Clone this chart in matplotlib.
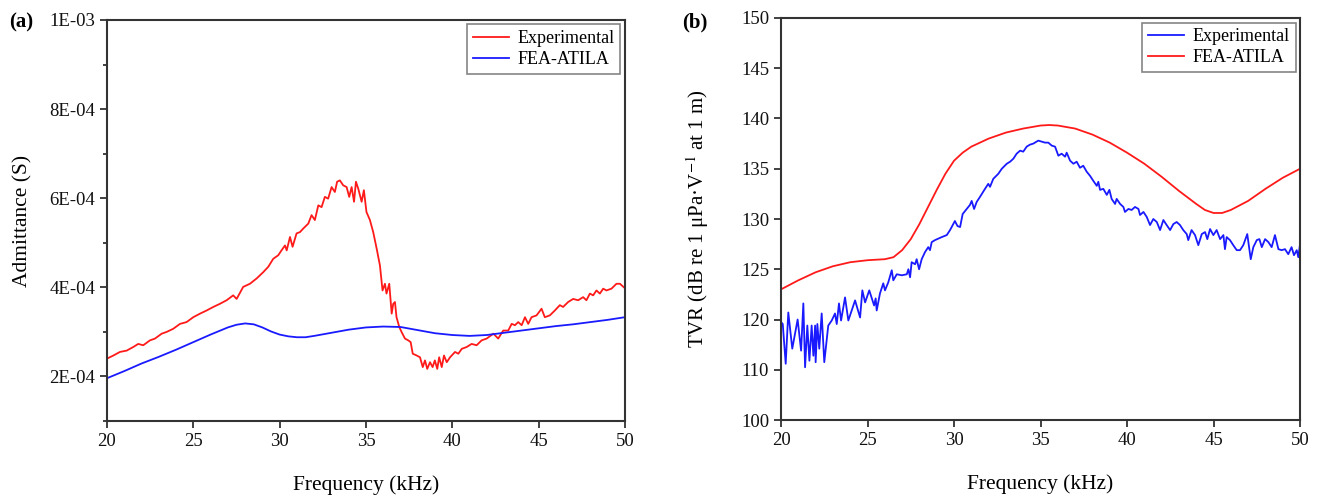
import numpy as np
import matplotlib
matplotlib.use('Agg')
import matplotlib.pyplot as plt
from matplotlib.ticker import MultipleLocator, FixedLocator

plt.rcParams['font.family'] = ['Liberation Serif', 'DejaVu Serif']
plt.rcParams['mathtext.fontset'] = 'stix'

# ---- panel (a): admittance, values in units of 1e-4 S ----
exp_a_f = [20.0, 20.37, 20.75, 21.14, 21.52, 21.81, 22.1, 22.49, 22.78, 23.17, 23.46, 23.84,
           24.23, 24.61, 25.0, 25.39, 25.77, 26.16, 26.54, 26.93, 27.31, 27.51, 27.89, 28.28,
           28.67, 29.05, 29.34, 29.63, 29.92, 30.11, 30.31, 30.41, 30.6, 30.75, 30.98, 31.18,
           31.37, 31.66, 31.85, 32.04, 32.24, 32.43, 32.62, 32.81, 33.01, 33.2, 33.33, 33.49,
           33.68, 33.88, 34.03, 34.17, 34.31, 34.42, 34.55, 34.75, 34.88, 35.03, 35.23, 35.42,
           35.62, 35.81, 35.96, 36.1, 36.19, 36.35, 36.49, 36.58, 36.68, 36.77, 36.93, 37.06,
           37.26, 37.45, 37.59, 37.71, 37.94, 38.13, 38.29, 38.42, 38.55, 38.71, 38.86, 38.99,
           39.13, 39.24, 39.39, 39.52, 39.68, 39.87, 40.16, 40.35, 40.55, 40.83, 41.12, 41.41,
           41.7, 41.99, 42.38, 42.66, 42.95, 43.24, 43.44, 43.63, 43.82, 44.02, 44.21, 44.4,
           44.59, 44.88, 45.17, 45.36, 45.65, 45.94, 46.23, 46.42, 46.71, 47.0, 47.29, 47.58,
           47.77, 47.97, 48.16, 48.35, 48.55, 48.74, 48.93, 49.22, 49.51, 49.71, 49.94, 50.0]
exp_a_y = [2.40, 2.47, 2.55, 2.58, 2.66, 2.73, 2.70, 2.81, 2.85, 2.96, 3.00, 3.07,
           3.18, 3.22, 3.33, 3.41, 3.48, 3.56, 3.63, 3.71, 3.82, 3.74, 4.01, 4.08,
           4.20, 4.34, 4.46, 4.64, 4.72, 4.83, 4.94, 4.83, 5.13, 4.91, 5.21, 5.24,
           5.32, 5.43, 5.62, 5.51, 5.84, 5.80, 6.03, 5.99, 6.25, 6.14, 6.37, 6.40,
           6.29, 6.25, 6.03, 6.25, 5.92, 6.37, 6.22, 5.92, 6.18, 5.69, 5.51, 5.24,
           4.87, 4.49, 3.93, 4.08, 3.86, 4.08, 3.41, 3.63, 3.67, 3.33, 3.11, 3.00,
           2.85, 2.81, 2.77, 2.51, 2.47, 2.43, 2.21, 2.36, 2.17, 2.32, 2.21, 2.36,
           2.17, 2.43, 2.21, 2.47, 2.32, 2.43, 2.55, 2.51, 2.62, 2.66, 2.73, 2.70,
           2.81, 2.85, 2.96, 2.85, 3.03, 3.03, 3.18, 3.15, 3.22, 3.15, 3.33, 3.18,
           3.33, 3.37, 3.52, 3.33, 3.37, 3.48, 3.60, 3.56, 3.67, 3.74, 3.71, 3.78,
           3.71, 3.86, 3.82, 3.93, 3.86, 3.97, 3.93, 3.97, 4.08, 4.08, 4.00, 3.98]

fea_a_f = [20, 21, 22, 23, 24, 25, 26, 27, 27.5, 28, 28.5, 29, 29.5, 30, 30.5, 31, 31.5, 32,
           33, 34, 35, 36, 37, 38, 39, 40, 41, 42, 43, 44, 45, 46, 47, 48, 49, 50]
fea_a_y = [1.96, 2.12, 2.29, 2.44, 2.60, 2.77, 2.94, 3.10, 3.16, 3.19, 3.17, 3.10, 3.01, 2.94,
           2.90, 2.88, 2.88, 2.91, 2.98, 3.05, 3.10, 3.12, 3.11, 3.04, 2.97, 2.93, 2.91, 2.93,
           2.98, 3.03, 3.08, 3.13, 3.17, 3.22, 3.27, 3.33]

# ---- panel (b): TVR in dB ----
exp_b_f = [20.0, 20.1, 20.27, 20.42, 20.65, 20.96, 21.16, 21.29, 21.39, 21.52, 21.64, 21.77,
           21.87, 21.97, 22.0, 22.1, 22.21, 22.35, 22.5, 22.73, 22.93, 23.12, 23.22, 23.35,
           23.47, 23.7, 23.89, 24.28, 24.57, 24.7, 24.86, 25.1, 25.38, 25.47, 25.53, 25.72,
           25.91, 26.01, 26.2, 26.4, 26.49, 26.69, 26.98, 27.27, 27.36, 27.46, 27.55, 27.75,
           27.84, 27.98, 28.13, 28.32, 28.51, 28.61, 28.71, 28.9, 29.29, 29.58, 29.77, 30.05,
           30.2, 30.35, 30.5, 30.73, 30.92, 31.02, 31.16, 31.31, 31.5, 31.79, 31.98, 32.08,
           32.27, 32.56, 32.76, 33.05, 33.24, 33.43, 33.62, 33.82, 34.0, 34.2, 34.39, 34.58,
           34.87, 35.07, 35.26, 35.45, 35.65, 35.84, 36.03, 36.22, 36.42, 36.51, 36.71, 36.9,
           37.09, 37.28, 37.47, 37.67, 37.86, 38.05, 38.25, 38.34, 38.44, 38.63, 38.83, 38.98,
           39.11, 39.31, 39.4, 39.6, 39.79, 39.88, 40.08, 40.27, 40.46, 40.66, 40.75, 40.95,
           41.14, 41.33, 41.52, 41.72, 41.91, 42.1, 42.29, 42.49, 42.68, 42.87, 43.06, 43.25,
           43.45, 43.54, 43.73, 43.93, 44.12, 44.32, 44.51, 44.64, 44.8, 44.99, 45.18, 45.38,
           45.57, 45.66, 45.76, 45.95, 46.14, 46.34, 46.53, 46.72, 46.95, 47.15, 47.3, 47.5,
           47.65, 47.79, 47.98, 48.17, 48.36, 48.55, 48.75, 48.94, 49.13, 49.32, 49.51, 49.65,
           49.81, 49.9, 50.0]
exp_b_y = [119.5, 119.1, 111.2, 120.7, 114.2, 120.0, 113.8, 121.6, 110.5, 118.8, 111.8, 118.8,
           112.8, 118.8, 111.5, 119.1, 114.2, 120.6, 111.5, 118.8, 119.8, 120.6, 119.1, 121.6,
           119.8, 122.2, 119.8, 121.9, 120.2, 122.9, 121.7, 122.9, 121.4, 122.1, 120.9, 122.6,
           123.6, 122.9, 123.7, 124.9, 123.9, 124.5, 124.4, 124.5, 125.0, 124.2, 125.7, 125.5,
           126.0, 125.0, 126.0, 126.7, 127.2, 126.9, 127.7, 127.9, 128.2, 128.4, 128.9, 129.8,
           129.3, 129.2, 130.5, 131.0, 131.4, 131.8, 131.0, 131.7, 132.2, 133.0, 133.5, 133.2,
           134.0, 134.5, 135.0, 135.5, 135.7, 136.0, 136.5, 136.8, 136.7, 137.2, 137.4, 137.5,
           137.8, 137.7, 137.6, 137.6, 137.3, 137.2, 136.3, 136.5, 136.2, 136.6, 135.8, 135.5,
           135.7, 135.1, 135.3, 134.7, 134.3, 133.8, 133.3, 133.7, 132.9, 133.0, 132.4, 132.9,
           132.0, 131.5, 132.0, 131.5, 131.2, 130.7, 131.0, 130.9, 131.2, 131.0, 130.4, 130.7,
           130.2, 129.4, 130.0, 129.7, 128.9, 129.9, 129.4, 128.9, 129.5, 129.7, 129.4, 128.9,
           128.5, 127.9, 128.9, 128.4, 127.4, 128.5, 128.7, 128.0, 129.0, 128.4, 128.9, 128.0,
           128.4, 127.0, 128.2, 127.9, 127.4, 126.9, 126.9, 127.4, 128.5, 126.0, 127.2, 127.9,
           128.0, 127.2, 128.0, 127.7, 127.2, 128.4, 127.0, 126.9, 127.0, 126.5, 127.2, 126.4,
           126.9, 126.2, 127.5]

fea_b_f = [20, 21, 22, 23, 24, 25, 26, 26.5, 27, 27.5, 28, 28.5, 29, 29.5, 30, 30.5, 31, 32,
           33, 34, 35, 35.5, 36, 37, 38, 39, 40, 41, 42, 43, 44, 44.5, 45, 45.5, 46, 47, 48,
           49, 50]
fea_b_y = [123.0, 123.9, 124.7, 125.3, 125.7, 125.9, 126.0, 126.2, 126.9, 128.0, 129.5, 131.2,
           132.9, 134.5, 135.8, 136.6, 137.2, 138.0, 138.6, 139.0, 139.3, 139.35, 139.3, 139.0,
           138.4, 137.6, 136.6, 135.5, 134.2, 132.8, 131.5, 130.9, 130.6, 130.6, 130.9, 131.8,
           133.0, 134.1, 135.0]

b_ticks = [100, 110, 120, 125, 130, 135, 140, 145, 150]

RED = '#ff1a1a'
BLUE = '#1a1aff'
SPINE = '#333333'


def style_axes(ax):
    for s in ax.spines.values():
        s.set_color(SPINE)
        s.set_linewidth(1.5)
    ax.tick_params(which='both', direction='out', color=SPINE, width=1.3,
                   labelsize=13.5, colors='#111111')
    ax.tick_params(which='major', length=5)
    ax.tick_params(which='minor', length=3)
    ax.set_xlim(20, 50)
    ax.xaxis.set_major_locator(MultipleLocator(5))
    ax.set_xlabel('Frequency (kHz)', fontsize=15.5, labelpad=18)


def style_legend(ax):
    leg = ax.legend(loc='upper right', fontsize=13, fancybox=False, handlelength=2.0,
                    handletextpad=0.5, borderaxespad=0.25, labelspacing=0.25, borderpad=0.3)
    leg.get_frame().set_edgecolor('#666666')
    leg.get_frame().set_linewidth(1.2)


fig = plt.figure(figsize=(13.24, 4.97), dpi=100)
ax1 = fig.add_axes([0.0808, 0.1529, 0.3912, 0.8069])
ax2 = fig.add_axes([0.5899, 0.1549, 0.3920, 0.8089])

# (a)
ax1.plot(np.array(exp_a_f), np.array(exp_a_y) * 1e-4, color=RED, lw=1.3, label='Experimental')
ax1.plot(np.array(fea_a_f), np.array(fea_a_y) * 1e-4, color=BLUE, lw=1.3, label='FEA-ATILA')
ax1.set_ylim(1e-4, 1e-3)
ax1.yaxis.set_major_locator(FixedLocator([2e-4, 4e-4, 6e-4, 8e-4, 1e-3]))
ax1.yaxis.set_minor_locator(FixedLocator([1e-4, 3e-4, 5e-4, 7e-4, 9e-4]))
ax1.set_yticklabels(['2E-04', '4E-04', '6E-04', '8E-04', '1E-03'])
ax1.set_ylabel('Admittance (S)', fontsize=15.5, labelpad=12)
style_axes(ax1)
style_legend(ax1)

# (b) -- axis compressed below 120, as in the original labels
def fwd(v):
    v = np.asarray(v, dtype=float)
    return np.where(v >= 120, v, 120 - (120 - v) / 2)


def inv(u):
    u = np.asarray(u, dtype=float)
    return np.where(u >= 120, u, 120 - 2 * (120 - u))


ax2.set_yscale('function', functions=(fwd, inv))
ax2.plot(exp_b_f, exp_b_y, color=BLUE, lw=1.3, label='Experimental')
ax2.plot(fea_b_f, fea_b_y, color=RED, lw=1.3, label='FEA-ATILA')
ax2.set_ylim(100, 150)
ax2.yaxis.set_major_locator(FixedLocator(b_ticks))
ax2.yaxis.set_minor_locator(FixedLocator([]))
ax2.set_yticklabels([str(t) for t in b_ticks])
ax2.set_ylabel('TVR (dB re 1 μPa·V$^{-1}$ at 1 m)', fontsize=15, labelpad=22)
style_axes(ax2)
style_legend(ax2)

fig.text(0.007, 0.945, '(a)', fontsize=15, fontweight='bold')
fig.text(0.515, 0.945, '(b)', fontsize=15, fontweight='bold')

fig.savefig('out.png', dpi=100)
